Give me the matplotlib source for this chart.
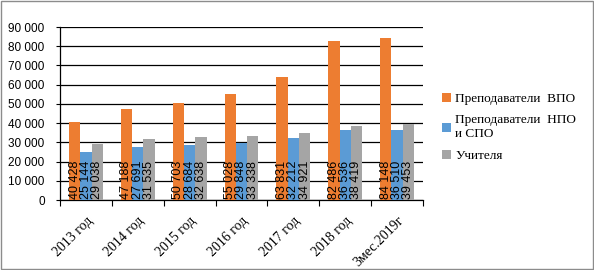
import numpy as np
import matplotlib.pyplot as plt
from matplotlib.patches import Rectangle
from matplotlib.font_manager import FontProperties

years = ["2013 год", "2014 год", "2015 год", "2016 год", "2017 год", "2018 год", "3мес.2019г"]
vpo = [40428, 47188, 50703, 55028, 63831, 82486, 84148]
npo_spo = [25144, 27691, 28684, 29848, 32212, 36536, 36510]
teachers = [29038, 31535, 32638, 33338, 34921, 38419, 39453]

names = ["Преподаватели  ВПО", "Преподаватели  НПО\nи СПО", "Учителя"]
colors = ["#ED7D31", "#5B9BD5", "#A5A5A5"]


def fmt(v):
    return f"{v:,}".replace(",", " ")


fig = plt.figure(figsize=(5.94, 2.70), dpi=100)
ax = fig.add_axes([0.101, 0.259, 0.611, 0.641])

x = np.arange(len(years))
w = 0.218
for i, (vals, name, c) in enumerate(zip([vpo, npo_spo, teachers], names, colors)):
    pos = x + (i - 1) * w
    ax.bar(pos, vals, width=w, color=c, label=name, zorder=3)
    for p, v in zip(pos, vals):
        ax.text(p, 600, fmt(v), rotation=90, ha="center", va="bottom",
                fontsize=9, family="Liberation Sans", zorder=4)

ax.set_ylim(0, 90000)
ax.set_xlim(-0.5, len(years) - 0.5)
ax.set_yticks(np.arange(0, 90001, 10000))
ax.set_yticklabels([fmt(v) for v in range(0, 90001, 10000)], family="Liberation Sans", fontsize=8.5)
ax.yaxis.grid(True, color="black", linewidth=0.9, zorder=0)
ax.tick_params(axis="y", length=3, width=0.8, pad=8)

ax.set_xticks(x)
ax.set_xticklabels(years, rotation=45, ha="right", rotation_mode="anchor",
                   family="Liberation Serif", fontsize=10)
ax.tick_params(axis="x", length=0, pad=10)
ax.set_xticks(np.arange(-0.5, len(years), 1), minor=True)
ax.tick_params(axis="x", which="minor", length=4, width=0.8)

for s in ["top", "right"]:
    ax.spines[s].set_visible(False)
ax.spines["left"].set_linewidth(0.9)
ax.spines["bottom"].set_linewidth(0.9)

ax.legend(loc="center left", bbox_to_anchor=(1.02, 0.42), frameon=False,
          prop=FontProperties(family="Liberation Serif", size=9.5),
          handlelength=0.7, handleheight=0.7, handletextpad=0.3, labelspacing=0.7)

fig.patches.append(Rectangle((0.002, 0.004), 0.996, 0.992, transform=fig.transFigure,
                             fill=False, edgecolor="#8c8c8c", linewidth=1))

fig.savefig("out.png", dpi=100)
